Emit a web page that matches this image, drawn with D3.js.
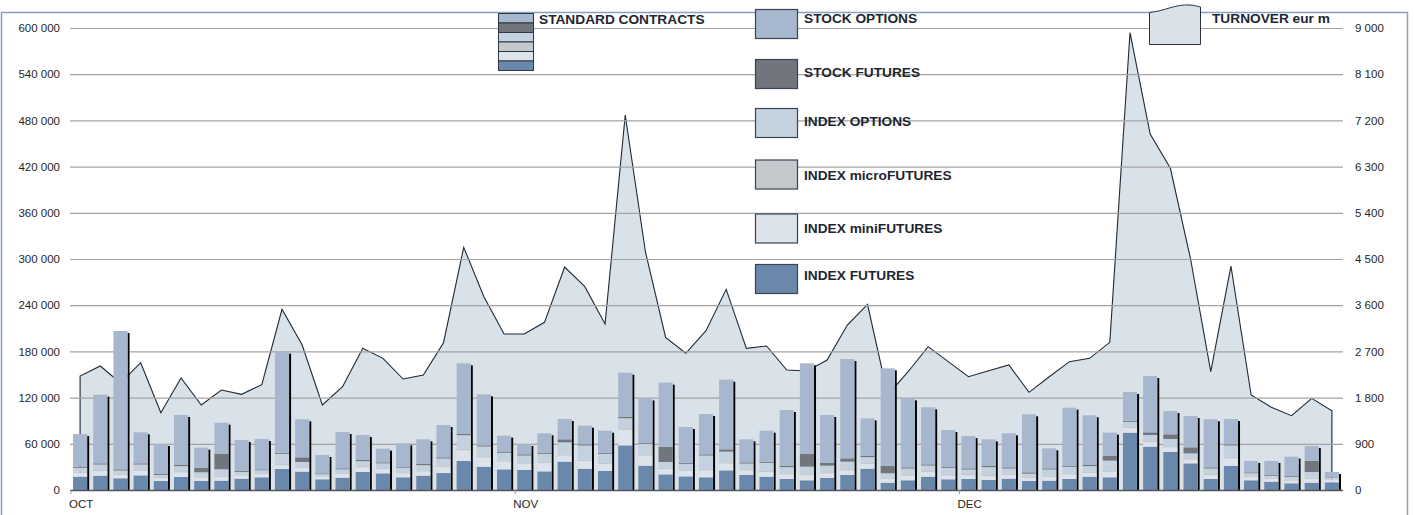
<!DOCTYPE html>
<html>
<head>
<meta charset="utf-8">
<script src="https://cdn.jsdelivr.net/npm/d3@7"></script>
<style>
  html, body { margin: 0; padding: 0; background: #fff; }
  svg { display: block; font-family: "Liberation Sans", Arial, sans-serif; }
</style>
</head>
<body>
<svg id="chart" width="1414" height="515"></svg>
<script>
// ---------- DATA (thousands of contracts / eur m) ----------
const monthLabels = ["OCT", "NOV", "DEC"];
const monthStartIdx = [0, 22, 44];

const indexFutures = [17.3,18.6,15.2,19,11.7,16.9,11.7,12.1,14.7,16.5,27.3,23.8,13.9,16,23.4,21.6,16.5,18.6,22,37.7,30.3,26.8,26,24.2,36.8,27.7,24.7,58,31.6,20.3,17.7,16.5,25.5,19.5,17.3,14.3,12.6,15.6,19.5,27.7,9.5,12.6,17.3,13.9,14.3,13,14.7,11.7,12.1,14.3,17.3,16.5,74.5,56.3,49.4,34.6,14.3,31.2,12.6,10.8,8.7,9.5,10];
const indexMiniFutures = [5,6,4.5,6,4,6,4.5,5,4,4,5,5,3.5,5,6,5.5,5,5.5,8,14,12,10,8,11,8,10,9,20,13,7,7,9,9,6,6,6,7,6,6,6,5,6,6,5,5,5,5,4,5,6,5,7,6,6,6,5,5,10,4,3.5,3.5,5,3];
const indexMicroFutures = [1.5,1.5,1.5,1.5,1.2,1.5,1.5,1.5,1.2,1.2,1.5,1.5,1,1.3,1.5,1.3,1.3,1.5,1.5,1.5,1.5,1.5,1.5,1.5,1.5,1.5,1.5,2,1.5,1.5,1.5,1.5,1.5,1.5,1.5,1.5,1.5,1.5,1.5,1.5,1.5,1.5,1.5,1.5,1.5,1.5,1.5,1.5,1.5,1.5,1.5,1.5,1.5,1.5,1.5,1.5,1.5,1.5,1.2,1,1,1.5,1];
const indexOptions = [5,7,4.1,6.6,2.7,6.6,5.3,8.3,3.6,3.9,13.2,6.1,2.2,4.5,6.6,6.2,6.2,6.7,9.4,18,12.7,10,9.3,10.3,15.6,18.6,11.8,13.2,13.9,7.6,7.8,17.8,13.8,7.4,10.5,7.9,9.2,8.5,9.8,7.5,5.7,7.8,7,8.4,5.8,10.2,6.7,4,8,8.3,7.2,13.2,6.5,7.6,9.4,6.5,7.1,15.1,3.9,3.2,4,7.4,2.3];
const stockFutures = [1.5,1.5,1.5,1.5,1.2,1.5,6,20.3,1.2,1.2,1.5,6,1,1.3,1.5,1.3,1.3,1.5,1.5,1.5,1.5,1.5,1.5,1.5,3.9,1.5,1.5,2,1.5,19.9,1.5,1.5,3,1.5,1.5,1.5,16.9,3.5,4.3,1.5,9.5,1.5,1.5,1.5,1.5,1.5,1.5,1.7,1.5,1.5,1.5,6,1.5,3.5,6,7.8,1.5,1.5,1.2,1,1,14.3,1];
const stockOptions = [42.4,89.2,179.7,40.3,38.9,64.9,26,40.2,40.2,39.4,131.2,49.4,23.9,47.2,32.4,17.8,30.3,32,42,91.8,66.2,20.8,13.4,25.1,26.4,24.2,28.5,57.2,57.5,83.1,46.3,52.4,90.5,29.9,40.2,72.7,117.3,62.3,129,48.8,126.8,89.6,74.1,47.6,42,34.6,44.2,75.4,26,75.3,64.5,30.3,37.3,73.1,30.3,40.7,62.4,32.9,14.8,18.2,25.1,19.4,6.1];
const turnover = [2221,2416,2084,2480,1506,2182,1656,1948,1864,2051,3520,2825,1656,2013,2760,2565,2162,2240,2870,4728,3766,3039,3039,3266,4344,3961,3234,7305,4642,2974,2663,3104,3909,2760,2805,2338,2318,2532,3214,3617,1851,2299,2792,2500,2207,2324,2435,1903,2207,2500,2565,2877,8908,6935,6267,4500,2305,4363,1851,1611,1448,1786,1545];

const leftTicks = [0,60000,120000,180000,240000,300000,360000,420000,480000,540000,600000];
const rightTicks = [0,900,1800,2700,3600,4500,5400,6300,7200,8100,9000];

const seriesKeys = ["IF","MINI","MICRO","IO","SF","SO"];
const seriesNames = {IF:"INDEX FUTURES", MINI:"INDEX miniFUTURES", MICRO:"INDEX microFUTURES", IO:"INDEX OPTIONS", SF:"STOCK FUTURES", SO:"STOCK OPTIONS"};
const seriesColors = {IF:"#6a88ab", MINI:"#dce3eb", MICRO:"#c4c7cb", IO:"#c4d1df", SF:"#71767e", SO:"#a6b7ce"};

// ---------- BUILD ----------
const n = turnover.length;
const rows = d3.range(n).map(i => ({
  i,
  IF: indexFutures[i]*1000, MINI: indexMiniFutures[i]*1000, MICRO: indexMicroFutures[i]*1000,
  IO: indexOptions[i]*1000, SF: stockFutures[i]*1000, SO: stockOptions[i]*1000,
  T: turnover[i]
}));

const svg = d3.select("#chart");
const L = 70, R = 1342, TOP = 28, BOT = 490;

const x = d3.scaleBand().domain(d3.range(n)).range([L, R]).paddingInner(0.3).paddingOuter(0.15);
const y = d3.scaleLinear().domain([0, 600000]).range([BOT, TOP]);
const y2 = d3.scaleLinear().domain([0, 9000]).range([BOT, TOP]);
const fmt = v => d3.format(",")(v).replace(/,/g, " ");

// border
svg.append("rect").attr("x", 1.5).attr("y", 12.5).attr("width", 1406).attr("height", 520)
  .attr("fill", "none").attr("stroke", "#86a0c2").attr("stroke-width", 1.5);

// turnover area
const area = d3.area().x(d => x(d.i) + x.bandwidth()/2).y0(y2(0)).y1(d => y2(d.T));
svg.append("path").datum(rows).attr("d", area).attr("fill", "#d9e1e9");
const line = d3.line().x(d => x(d.i) + x.bandwidth()/2).y(d => y2(d.T));
const first = rows[0], last = rows[n-1];
svg.append("path")
  .attr("d", "M" + (x(0)+x.bandwidth()/2) + "," + y2(0) + "L" + line(rows).slice(1) + "L" + (x(n-1)+x.bandwidth()/2) + "," + y2(0))
  .attr("fill", "none").attr("stroke", "#1f2935").attr("stroke-width", 1.1);

// gridlines
svg.append("g").selectAll("line").data(leftTicks.slice(1)).join("line")
  .attr("x1", L).attr("x2", R + 1).attr("y1", d => y(d) + 0.5).attr("y2", d => y(d) + 0.5)
  .attr("stroke", "#a3a3a3").attr("stroke-width", 1.2);

// left axis
const gl = svg.append("g").attr("transform", `translate(${L - 10},0)`)
  .call(d3.axisLeft(y).tickValues(leftTicks).tickFormat(fmt).tickSize(0).tickPadding(0));
gl.select(".domain").remove();
gl.selectAll("text").attr("font-size", "11.5px").attr("fill", "#262626").attr("font-family", "Liberation Sans, Arial, sans-serif");

// right axis
const gr = svg.append("g").attr("transform", `translate(${1355},0)`)
  .call(d3.axisRight(y2).tickValues(rightTicks).tickFormat(fmt).tickSize(0).tickPadding(0));
gr.select(".domain").remove();
gr.selectAll("text").attr("font-size", "11.5px").attr("fill", "#262626").attr("font-family", "Liberation Sans, Arial, sans-serif");

// legend
const lg = svg.append("g").attr("font-family", "Liberation Sans, Arial, sans-serif").attr("font-weight", "bold").attr("font-size", "13.7px").attr("fill", "#1e2630");
// mini stacked legend
const stackOrder = ["SO","SF","IO","MICRO","MINI","IF"];
stackOrder.forEach((k, j) => {
  lg.append("rect").attr("x", 498.5).attr("y", 13.5 + j*9.5).attr("width", 35).attr("height", 9.5)
    .attr("fill", seriesColors[k]).attr("stroke", "#2d3742").attr("stroke-width", 1);
});
lg.append("text").attr("x", 539).attr("y", 24).text("STANDARD CONTRACTS");

const legY = {SO: 9.5, SF: 59.5, IO: 108.5, MICRO: 160, MINI: 214, IF: 264.5};
const legTextY = {SO: 23, SF: 77, IO: 126, MICRO: 180, MINI: 232.5, IF: 279.5};
stackOrder.forEach(k => {
  lg.append("rect").attr("x", 755.5).attr("y", legY[k]).attr("width", 42).attr("height", 29)
    .attr("fill", seriesColors[k]).attr("stroke", "#3a4450").attr("stroke-width", 1.2);
  lg.append("text").attr("x", 804).attr("y", legTextY[k]).text(seriesNames[k]);
});
// turnover legend
lg.append("path")
  .attr("d", "M1149.5,44.5 L1149.5,12.5 C1165,11 1175,4 1190,5 C1195,5.3 1198,6.5 1200.5,7 L1200.5,44.5 Z")
  .attr("fill", "#d9e1e9").attr("stroke", "#2a333d").attr("stroke-width", 1);
lg.append("text").attr("x", 1212).attr("y", 22.5).text("TURNOVER eur m");

// bars
const stacked = d3.stack().keys(seriesKeys)(rows);
const bw = x.bandwidth();
// shadows
svg.append("g").selectAll("rect").data(rows).join("rect")
  .attr("x", d => x(d.i) + bw)
  .attr("y", d => y(d.IF + d.MINI + d.MICRO + d.IO + d.SF + d.SO) + 2)
  .attr("width", 2)
  .attr("height", d => y(0) - y(d.IF + d.MINI + d.MICRO + d.IO + d.SF + d.SO) - 2)
  .attr("fill", "#000");
svg.append("g").selectAll("g").data(stacked).join("g")
  .attr("fill", s => seriesColors[s.key])
  .selectAll("rect").data(s => s).join("rect")
  .attr("x", (d, i) => x(i))
  .attr("y", d => y(d[1]))
  .attr("width", bw)
  .attr("height", d => Math.max(0, y(d[0]) - y(d[1])));

// x axis baseline + month ticks
svg.append("line").attr("x1", L).attr("x2", R + 1).attr("y1", BOT + 0.5).attr("y2", BOT + 0.5)
  .attr("stroke", "#555").attr("stroke-width", 1.5);
monthStartIdx.forEach((idx, j) => {
  const tx = x(idx) - 2;
  svg.append("line").attr("x1", tx).attr("x2", tx).attr("y1", BOT).attr("y2", BOT + 4).attr("stroke", "#999");
  svg.append("text").attr("x", tx - 2).attr("y", 508).attr("font-size", "11.5px").attr("fill", "#262626")
    .text(monthLabels[j]);
});
</script>
</body>
</html>
